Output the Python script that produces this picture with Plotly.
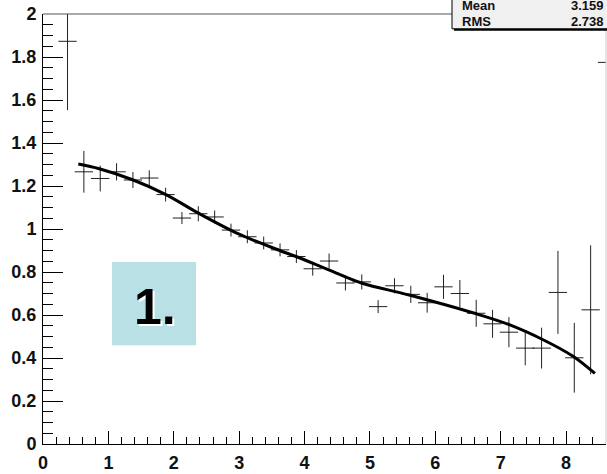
import plotly.graph_objects as go

# Histogram bin centres (bin width 0.25), contents and errors
bin_x = [0.375, 0.625, 0.875, 1.125, 1.375, 1.625, 1.875, 2.125, 2.375, 2.625,
         2.875, 3.125, 3.375, 3.625, 3.875, 4.125, 4.375, 4.625, 4.875, 5.125,
         5.375, 5.625, 5.875, 6.125, 6.375, 6.625, 6.875, 7.125, 7.375, 7.625,
         7.875, 8.125, 8.375, 8.625]
bin_y = [1.873, 1.266, 1.235, 1.266, 1.228, 1.237, 1.160, 1.051, 1.071, 1.056,
         0.995, 0.964, 0.935, 0.903, 0.872, 0.815, 0.851, 0.749, 0.754, 0.639,
         0.736, 0.696, 0.657, 0.731, 0.700, 0.608, 0.559, 0.520, 0.446, 0.446,
         0.705, 0.401, 0.624, 1.775]
bin_err = [0.32, 0.097, 0.060, 0.040, 0.037, 0.036, 0.032, 0.028, 0.035, 0.030,
           0.030, 0.030, 0.030, 0.030, 0.030, 0.032, 0.035, 0.035, 0.035, 0.030,
           0.035, 0.040, 0.046, 0.056, 0.063, 0.063, 0.065, 0.070, 0.080, 0.095,
           0.193, 0.162, 0.300, 0.500]
half_width = 0.14

# Fitted curve
fit_x = [0.54, 0.86, 1.37, 1.88, 2.37, 3.0, 3.62, 3.87, 4.37, 4.87, 5.6, 6.6,
         7.13, 7.64, 8.1, 8.44]
fit_y = [1.302, 1.28, 1.229, 1.16, 1.075, 0.976, 0.90, 0.872, 0.81, 0.749,
         0.693, 0.608, 0.555, 0.486, 0.409, 0.328]

stats_names = ["Mean", "RMS"]
stats_values = ["3.159", "2.738"]
pad_label = "1."

W, H = 607, 474
L, R, T, B = 43, 1, 14, 25
PW, PH = W - L - R, H - T - B


def px(x):
    return (x - L) / PW


def py(y):
    return (H - B - y) / PH


fig = go.Figure()

fig.add_trace(go.Scatter(
    x=bin_x, y=bin_y, mode="markers",
    marker=dict(size=1, color="#222"),
    error_y=dict(type="data", array=bin_err, color="#222", thickness=1, width=0),
    error_x=dict(type="constant", value=half_width, color="#222", thickness=1, width=0),
    showlegend=False, hoverinfo="skip",
))

fig.add_trace(go.Scatter(
    x=fit_x, y=fit_y, mode="lines",
    line=dict(color="black", width=3, shape="spline", smoothing=1.0),
    showlegend=False, hoverinfo="skip",
))

tickfont = dict(family="Liberation Sans", size=18, color="#111", weight="bold")

fig.update_layout(
    width=W, height=H,
    margin=dict(l=L, r=R, t=T, b=B, pad=0),
    paper_bgcolor="white", plot_bgcolor="white",
    xaxis=dict(
        range=[0, 8.61], showgrid=False, zeroline=False,
        showline=True, linecolor="black", linewidth=1,
        ticks="inside", ticklen=13, tickcolor="black", tickwidth=1,
        tick0=0, dtick=1, tickfont=tickfont, ticklabelstandoff=2,
        minor=dict(ticks="inside", ticklen=7, dtick=0.2, tickcolor="black",
                   showgrid=False),
    ),
    yaxis=dict(
        range=[0, 2], showgrid=False, zeroline=False,
        showline=True, linecolor="black", linewidth=1,
        ticks="inside", ticklen=20, tickcolor="black", tickwidth=1,
        tick0=0, dtick=0.2, tickfont=tickfont, ticklabelstandoff=2,
        minor=dict(ticks="inside", ticklen=10, dtick=0.05, tickcolor="black",
                   showgrid=False),
    ),
)

shapes = []
# frame: top and right edges
shapes.append(dict(type="line", xref="paper", yref="paper", x0=0, x1=1, y0=1, y1=1,
                   line=dict(color="#555", width=1)))
shapes.append(dict(type="line", xref="paper", yref="paper", x0=1, x1=1, y0=0, y1=1,
                   line=dict(color="#c8c8c8", width=1)))
# statistics box with shadow
shapes.append(dict(type="rect", xref="paper", yref="paper",
                   x0=px(454), x1=px(620), y0=py(31), y1=py(-20),
                   fillcolor="black", line=dict(width=0)))
shapes.append(dict(type="rect", xref="paper", yref="paper",
                   x0=px(452), x1=px(618), y0=py(29), y1=py(-22),
                   fillcolor="#f0f0f0", line=dict(color="black", width=1)))
# label pad
shapes.append(dict(type="rect", xref="paper", yref="paper",
                   x0=px(112), x1=px(196), y0=py(349), y1=py(265),
                   fillcolor="#b9e0e4", line=dict(width=0)))
fig.update_layout(shapes=shapes)

annotations = []
statfont = dict(family="Liberation Sans", size=13, color="#111", weight="bold")
for i, (name, val) in enumerate(zip(stats_names, stats_values)):
    yy = 5 + 17 * i
    annotations.append(dict(xref="paper", yref="paper", x=px(460), y=py(yy),
                            text=name, showarrow=False, xanchor="left",
                            yanchor="middle", font=statfont))
    annotations.append(dict(xref="paper", yref="paper", x=px(606), y=py(yy),
                            text=val, showarrow=False, xanchor="right",
                            yanchor="middle", font=statfont))
annotations.append(dict(xref="paper", yref="paper", x=px(155), y=py(310),
                        text=pad_label, showarrow=False, xanchor="center",
                        yanchor="middle",
                        font=dict(family="Liberation Sans", size=50, weight="bold",
                                  color="black", shadow="2px 2px 0px white")))
fig.update_layout(annotations=annotations)

fig.write_html("out.html")
